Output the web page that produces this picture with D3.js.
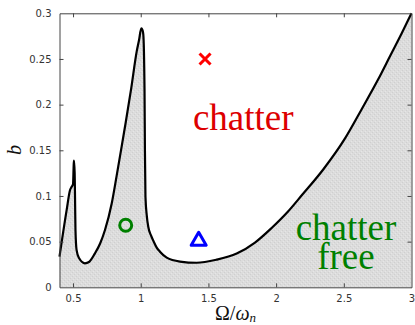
<!DOCTYPE html>
<html>
<head>
<meta charset="utf-8">
<script src="https://cdn.jsdelivr.net/npm/d3@7/dist/d3.min.js"></script>
<style>
  body { margin: 0; background: #fff; }
  svg { display: block; }
</style>
</head>
<body>
<div id="chart"></div>
<script>
// stability limit b over spindle speed ratio
const omega = [0.400, 0.453, 0.478, 0.490, 0.500, 0.505, 0.507, 0.512, 0.515, 0.518,
    0.526, 0.544, 0.588, 0.618, 0.662, 0.700, 0.736, 0.786, 0.822, 0.859,
    0.884, 0.930, 0.970, 0.988, 1.004, 1.013, 1.019, 1.028, 1.031, 1.035,
    1.045, 1.056, 1.075, 1.093, 1.118, 1.142, 1.192, 1.290, 1.413, 1.561,
    1.709, 1.844, 1.967, 2.088, 2.191, 2.348, 2.509, 2.632, 2.755, 2.841,
    2.927, 3.000];
const bLimit = [0.0335, 0.0847, 0.1065, 0.1100, 0.1130, 0.1340, 0.1386, 0.1250, 0.0950, 0.0630,
    0.0410, 0.0320, 0.0263, 0.0277, 0.0372, 0.0480, 0.0627, 0.0920, 0.1220, 0.1540,
    0.1760, 0.2180, 0.2580, 0.2710, 0.2836, 0.2817, 0.2770, 0.2160, 0.1500, 0.0990,
    0.0780, 0.0660, 0.0570, 0.0510, 0.0435, 0.0390, 0.0325, 0.0282, 0.0269, 0.0303,
    0.0370, 0.0490, 0.0650, 0.0830, 0.1010, 0.1290, 0.1630, 0.1950, 0.2280, 0.2530,
    0.2780, 0.3000];

const xTicks = [0.5, 1, 1.5, 2, 2.5, 3];
const yTicks = [0, 0.05, 0.1, 0.15, 0.2, 0.25, 0.3];

// test points
const crossPt = [1.475, 0.25];
const circlePt = [0.889, 0.068];
const trianglePt = [1.428, 0.0532];

// region labels: [omega, b] of the first baseline
const chatterLabel = {lines: ["chatter"], at: [1.757, 0.172]};
const freeLabel = {lines: ["chatter", "free"], at: [2.516, 0.0518]};

const width = 415, height = 325;
const plot = {left: 59.5, right: 411.5, top: 13.3, bottom: 287.3};

const x = d3.scaleLinear().domain([0.4, 3]).range([plot.left, plot.right]);
const y = d3.scaleLinear().domain([0, 0.3]).range([plot.bottom, plot.top]);

const svg = d3.select("#chart").append("svg")
    .attr("width", width)
    .attr("height", height);

// speckled grey fill like the exported hatch
const defs = svg.append("defs");
const pat = defs.append("pattern")
    .attr("id", "speckle")
    .attr("width", 4).attr("height", 4)
    .attr("patternUnits", "userSpaceOnUse");
pat.append("rect").attr("width", 4).attr("height", 4).attr("fill", "#dcdcdc");
pat.append("rect").attr("x", 0).attr("y", 0).attr("width", 1).attr("height", 1).attr("fill", "#cfcfcf");
pat.append("rect").attr("x", 2).attr("y", 2).attr("width", 1).attr("height", 1).attr("fill", "#cfcfcf");
pat.append("rect").attr("x", 1).attr("y", 3).attr("width", 1).attr("height", 1).attr("fill", "#e6e6e6");
pat.append("rect").attr("x", 3).attr("y", 1).attr("width", 1).attr("height", 1).attr("fill", "#e6e6e6");

const pts = omega.map((o, i) => [o, bLimit[i]]);

const area = d3.area()
    .x(d => x(d[0]))
    .y0(y(0))
    .y1(d => y(d[1]))
    .curve(d3.curveMonotoneX);

const line = d3.line()
    .x(d => x(d[0]))
    .y(d => y(d[1]))
    .curve(d3.curveMonotoneX);

svg.append("path")
    .datum(pts)
    .attr("d", area)
    .attr("fill", "url(#speckle)");

svg.append("path")
    .datum(pts)
    .attr("d", line)
    .attr("fill", "none")
    .attr("stroke", "#000")
    .attr("stroke-width", 2.2)
    .attr("stroke-linejoin", "round");

// axes (box with inward ticks)
const axisColor = "#444";
const labelColor = "#333";
const tickFont = "'DejaVu Sans', sans-serif";

const bottomAxis = svg.append("g")
    .attr("transform", `translate(0,${plot.bottom})`)
    .call(d3.axisBottom(x).tickValues(xTicks).tickSizeInner(-4).tickSizeOuter(0).tickPadding(8)
        .tickFormat(d3.format("")));
const topAxis = svg.append("g")
    .attr("transform", `translate(0,${plot.top})`)
    .call(d3.axisTop(x).tickValues(xTicks).tickSizeInner(-4).tickSizeOuter(0).tickFormat(""));
const leftAxis = svg.append("g")
    .attr("transform", `translate(${plot.left},0)`)
    .call(d3.axisLeft(y).tickValues(yTicks).tickSizeInner(-4).tickSizeOuter(0).tickPadding(8)
        .tickFormat(d3.format("")));
const rightAxis = svg.append("g")
    .attr("transform", `translate(${plot.right},0)`)
    .call(d3.axisRight(y).tickValues(yTicks).tickSizeInner(-4).tickSizeOuter(0).tickFormat(""));

[bottomAxis, topAxis, leftAxis, rightAxis].forEach(g => {
    g.select(".domain").attr("stroke", axisColor).attr("stroke-width", 1);
    g.selectAll(".tick line").attr("stroke", axisColor);
    g.selectAll(".tick text")
        .attr("fill", labelColor)
        .style("font-family", tickFont)
        .style("font-size", "10px");
});
// drop tick marks sitting on the box corners
bottomAxis.selectAll(".tick").filter(d => d === 3).select("line").remove();
topAxis.selectAll(".tick").filter(d => d === 3).select("line").remove();
leftAxis.selectAll(".tick").filter(d => d === 0 || d === 0.3).select("line").remove();
rightAxis.selectAll(".tick").filter(d => d === 0 || d === 0.3).select("line").remove();

// axis titles
const serif = "'Liberation Serif', 'Times New Roman', serif";
const xTitle = svg.append("text")
    .attr("x", (plot.left + plot.right) / 2)
    .attr("y", 319.5)
    .attr("text-anchor", "middle")
    .style("font-family", serif)
    .style("font-size", "20px")
    .attr("fill", "#111");
xTitle.append("tspan").text("Ω/");
xTitle.append("tspan").attr("font-style", "italic").text("ω");
xTitle.append("tspan").attr("font-style", "italic").attr("font-size", "13px").attr("dy", 2.5).text("n");

svg.append("text")
    .attr("transform", `translate(21,150) rotate(-90)`)
    .attr("text-anchor", "middle")
    .style("font-family", serif)
    .style("font-size", "20px")
    .style("font-style", "italic")
    .attr("fill", "#111")
    .text("b");

// region labels
function regionLabel(label, color) {
    const t = svg.append("text")
        .attr("x", x(label.at[0]))
        .attr("y", y(label.at[1]))
        .attr("text-anchor", "middle")
        .style("font-family", serif)
        .style("font-size", "37px")
        .attr("fill", color);
    label.lines.forEach((s, i) => {
        t.append("tspan")
            .attr("x", x(label.at[0]))
            .attr("dy", i === 0 ? 0 : 29.5)
            .text(s);
    });
}
regionLabel(chatterLabel, "#dd0000");
regionLabel(freeLabel, "#008000");

// markers
const cx = x(crossPt[0]), cy = y(crossPt[1]);
svg.append("path")
    .attr("d", `M${cx - 5.5},${cy - 5.5}L${cx + 5.5},${cy + 5.5}M${cx - 5.5},${cy + 5.5}L${cx + 5.5},${cy - 5.5}`)
    .attr("stroke", "#ff0000")
    .attr("stroke-width", 3)
    .attr("fill", "none");

svg.append("circle")
    .attr("cx", x(circlePt[0]))
    .attr("cy", y(circlePt[1]))
    .attr("r", 6)
    .attr("fill", "none")
    .attr("stroke", "#008000")
    .attr("stroke-width", 3);

const tx = x(trianglePt[0]), ty = y(trianglePt[1]);
svg.append("path")
    .attr("d", `M${tx},${ty - 6.5}L${tx + 7.5},${ty + 6.5}L${tx - 7.5},${ty + 6.5}Z`)
    .attr("fill", "none")
    .attr("stroke", "#0000ff")
    .attr("stroke-width", 3)
    .attr("stroke-linejoin", "round");
</script>
</body>
</html>
